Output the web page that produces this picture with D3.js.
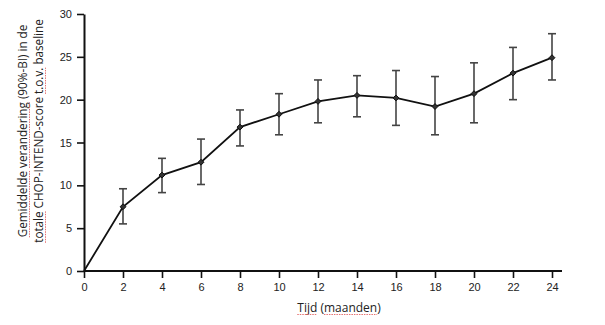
<!DOCTYPE html>
<html><head><meta charset="utf-8">
<script src="https://cdn.jsdelivr.net/npm/d3@7"></script>
<style>body{margin:0;background:#fff}</style>
</head><body>
<script>
const months = [0,2,4,6,8,10,12,14,16,18,20,22,24];
const meanChange = [0,7.5,11.2,12.7,16.8,18.3,19.8,20.5,20.2,19.2,20.7,23.1,24.9];
const ciLower = [null,5.5,9.15,10.1,14.6,15.9,17.3,18.0,17.0,15.9,17.3,20.0,22.3];
const ciUpper = [null,9.6,13.15,15.4,18.8,20.7,22.3,22.8,23.4,22.7,24.3,26.1,27.7];
const xTicks = [0,2,4,6,8,10,12,14,16,18,20,22,24];
const yTicks = [0,5,10,15,20,25,30];
const yTitleLines = [
  [["Gemiddelde",true],[" ",false],["verandering",true],[" (90%-BI) in de",false]],
  [["totale",true],[" CHOP-INTEND-score ",false],["t.o.v.",true],[" baseline",false]]
];
const xTitle = [["Tijd",true],[" (",false],["maanden",true],[")",false]];

const W=605,H=325;
const svg=d3.select("body").append("svg").attr("width",W).attr("height",H);
const x=d3.scaleLinear().domain([0,24]).range([84,552]);
const y=d3.scaleLinear().domain([0,30]).range([271,14]);
const tickFont="'Liberation Sans', Arial, sans-serif";
const titleFont="'Open Sans', 'Noto Sans', sans-serif";

// axes
const xa=svg.append("g").attr("transform","translate(0,271)")
  .call(d3.axisBottom(x).tickValues(xTicks).tickSize(7).tickPadding(5).tickSizeOuter(0));
xa.select(".domain").attr("d","M84,0H562");
const ya=svg.append("g").attr("transform","translate(84,0)")
  .call(d3.axisLeft(y).tickValues(yTicks).tickSize(7).tickPadding(5).tickSizeOuter(0));
[xa,ya].forEach(a=>{
  a.selectAll(".domain").attr("stroke","#111").attr("stroke-width",2);
  a.selectAll(".tick line").attr("stroke","#111").attr("stroke-width",1.6);
  a.selectAll(".tick text").attr("font-family",tickFont).attr("font-size",11).attr("fill","#222");
});

// error bars
const pts=months.map((m,i)=>({m,v:meanChange[i],lo:ciLower[i],hi:ciUpper[i]}));
const eb=svg.append("g").attr("stroke","#444").attr("stroke-width",1.6);
pts.filter(d=>d.lo!=null).forEach(d=>{
  eb.append("line").attr("x1",x(d.m)).attr("x2",x(d.m)).attr("y1",y(d.lo)).attr("y2",y(d.hi));
  eb.append("line").attr("x1",x(d.m)-4).attr("x2",x(d.m)+4).attr("y1",y(d.lo)).attr("y2",y(d.lo));
  eb.append("line").attr("x1",x(d.m)-4).attr("x2",x(d.m)+4).attr("y1",y(d.hi)).attr("y2",y(d.hi));
});

// line
svg.append("path").datum(pts).attr("fill","none").attr("stroke","#111").attr("stroke-width",1.8)
  .attr("d",d3.line().x(d=>x(d.m)).y(d=>y(d.v)));

// markers
svg.append("g").selectAll("path").data(pts.slice(1)).join("path")
  .attr("transform",d=>`translate(${x(d.m)},${y(d.v)})`)
  .attr("d",d3.symbol(d3.symbolDiamond2,22)())
  .attr("fill","#333").attr("stroke","#111").attr("stroke-width",1);

function richText(g,parts,tx,ty,fs){
  const t=g.append("text").attr("font-family",titleFont).attr("font-size",fs).attr("fill","#222")
    .attr("text-anchor","middle").attr("x",tx).attr("y",ty)
    .text(parts.map(p=>p[0]).join(""));
  const node=t.node();
  let idx=0;
  parts.forEach(([s,u])=>{
    if(u){
      const x0=node.getStartPositionOfChar(idx).x;
      const x1=node.getEndPositionOfChar(idx+s.length-1).x;
      g.append("line").attr("x1",x0).attr("x2",x1).attr("y1",ty+2.5).attr("y2",ty+2.5)
        .attr("stroke","#e57373").attr("stroke-width",1).attr("stroke-dasharray","1.5,1");
    }
    idx+=s.length;
  });
  return t;
}
// y title
const yt=svg.append("g").attr("transform","translate(27,131) rotate(-90)");
yTitleLines.forEach((ln,i)=>richText(yt,ln,0,i*16,11.7));
// x title
richText(svg.append("g"),xTitle,339,312,12);
</script>
</body></html>
